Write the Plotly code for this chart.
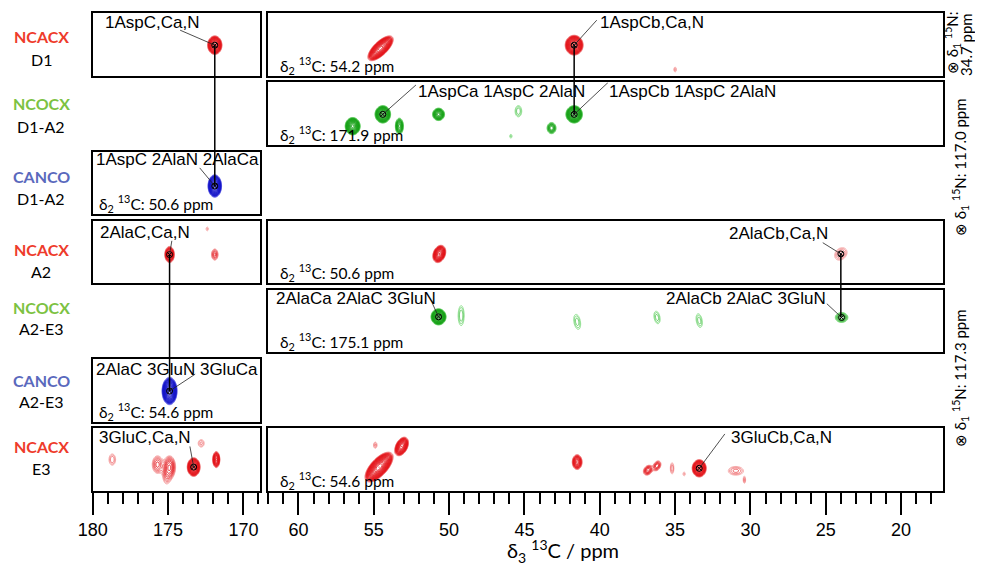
import numpy as np
import plotly.graph_objects as go

# page body adds an 8px margin around the figure; size the figure so the page fits the window exactly
PAGE_W, PAGE_H, BODY_MARGIN = 983, 575, 8
FIG_W, FIG_H = PAGE_W - 2 * BODY_MARGIN, PAGE_H - 2 * BODY_MARGIN

# ---------------- data ----------------
left_range = [180.0, 168.9]
right_range = [62.0, 17.2]

row_experiments = ["NCACX", "NCOCX", "CANCO", "NCACX", "NCOCX", "CANCO", "NCACX"]
row_residues = ["D1", "D1-A2", "D1-A2", "A2", "A2-E3", "A2-E3", "E3"]
experiment_colors = {"NCACX": "#EE3B2B", "NCOCX": "#7CC242", "CANCO": "#5A69BD"}
peak_colors = {"NCACX": ("#F5A3A3", "#E3151B"), "NCOCX": ("#86DE86", "#16A016"),
               "CANCO": ("#8C8CF0", "#1515C8")}

# panels: row index, column (L = carbonyl strip, R = aliphatic strip)
panel_rows = [0, 0, 1, 2, 3, 3, 4, 5, 6, 6]
panel_cols = ["L", "R", "R", "L", "L", "R", "R", "L", "L", "R"]
panel_plane_c13 = [None, "54.2", "171.9", "50.6", None, "50.6", "175.1", "54.6", None, "54.6"]
n_planes = ["34.7", "117.0", "117.3"]

# peaks: (delta3 ppm, position in strip 0..1, half-width ppm, half-height, intensity, slant ppm per unit)
peaks_1 = [(171.9, 0.49, 0.48, 0.15, 40, 0)]
peaks_2 = [(54.55, 0.44, 0.60, 0.20, 60, -3.0), (41.7, 0.49, 0.60, 0.16, 50, 0),
           (35.0, 0.10, 0.08, 0.04, 1.5, 0)]
peaks_3 = [(56.4, 0.30, 0.50, 0.14, 40, 0), (54.4, 0.49, 0.52, 0.14, 40, 0), (53.3, 0.30, 0.27, 0.13, 10, 0),
           (50.7, 0.49, 0.40, 0.10, 15, 0), (45.4, 0.54, 0.22, 0.09, 1.8, 0), (43.2, 0.27, 0.30, 0.09, 6, 0),
           (41.7, 0.49, 0.55, 0.14, 40, 0), (45.9, 0.14, 0.08, 0.03, 1.3, 0)]
peaks_4 = [(171.9, 0.45, 0.45, 0.18, 50, 0)]
peaks_5 = [(174.9, 0.46, 0.32, 0.13, 15, 0), (171.9, 0.46, 0.22, 0.09, 3, 0), (172.4, 0.87, 0.08, 0.03, 1.3, 0)]
peaks_6 = [(50.65, 0.47, 0.42, 0.14, 25, -0.8), (24.0, 0.47, 0.40, 0.10, 2, -1.0)]
peaks_7 = [(50.7, 0.57, 0.50, 0.13, 40, 0), (49.2, 0.59, 0.20, 0.16, 1.8, 0), (41.5, 0.49, 0.22, 0.12, 1.7, 0.6),
           (36.2, 0.56, 0.20, 0.10, 1.7, 0.6), (33.4, 0.51, 0.20, 0.11, 1.7, 0.6), (23.95, 0.56, 0.42, 0.08, 4, 0)]
peaks_8 = [(174.9, 0.49, 0.50, 0.22, 60, 0)]
peaks_9 = [(178.7, 0.50, 0.22, 0.09, 1.8, 0), (174.9, 0.38, 0.40, 0.18, 5, 0), (175.7, 0.42, 0.35, 0.14, 3, 0),
           (175.1, 0.22, 0.20, 0.10, 1.6, 0), (173.3, 0.38, 0.43, 0.15, 40, 0), (171.8, 0.50, 0.24, 0.13, 15, 0),
           (172.8, 0.76, 0.20, 0.06, 1.6, 0)]
peaks_10 = [(54.65, 0.38, 0.70, 0.24, 80, -2.6), (53.15, 0.71, 0.42, 0.15, 30, -1.2), (54.9, 0.73, 0.12, 0.05, 1.6, 0),
            (41.5, 0.46, 0.33, 0.12, 12, 0), (36.8, 0.33, 0.30, 0.08, 5, -1.0), (36.2, 0.40, 0.25, 0.08, 4, -1.0),
            (35.2, 0.36, 0.12, 0.09, 1.8, 0), (34.4, 0.27, 0.08, 0.03, 1.3, 0), (33.4, 0.36, 0.47, 0.14, 40, 0),
            (30.97, 0.32, 0.50, 0.07, 2, 0), (30.4, 0.17, 0.08, 0.05, 1.6, 0)]
panel_peaks = [peaks_1, peaks_2, peaks_3, peaks_4, peaks_5, peaks_6, peaks_7, peaks_8, peaks_9, peaks_10]

# assignments: (text, text x ppm, text y, anchor, leader start x, leader start y, peak x, peak y)
labels_1 = [("1AspC,Ca,N", 179.3, 0.86, "left", 174.2, 0.73, 171.9, 0.49)]
labels_2 = [("1AspCb,Ca,N", 40.1, 0.86, "left", 40.2, 0.89, 41.7, 0.49)]
labels_3 = [("1AspCa 1AspC 2AlaN", 52.2, 0.86, "left", 52.2, 0.96, 54.4, 0.49),
            ("1AspCb 1AspC 2AlaN", 39.5, 0.86, "left", 39.45, 1.0, 41.7, 0.49)]
labels_4 = [("1AspC 2AlaN 2AlaCa", 179.9, 0.87, "left", 172.9, 0.74, 171.9, 0.45)]
labels_5 = [("2AlaC,Ca,N", 179.65, 0.81, "left", 174.75, 0.68, 174.9, 0.46)]
labels_6 = [("2AlaCb,Ca,N", 24.73, 0.79, "right", 25.2, 0.65, 24.0, 0.47)]
labels_7 = [("2AlaCa 2AlaC 3GluN", 61.6, 0.86, "left", 51.1, 0.78, 50.7, 0.57),
            ("2AlaCb 2AlaC 3GluN", 24.87, 0.86, "right", 24.93, 0.78, 23.95, 0.56)]
labels_8 = [("2AlaC 3GluN 3GluCa", 179.9, 0.84, "left", 173.2, 0.76, 174.9, 0.49)]
labels_9 = [("3GluC,Ca,N", 179.7, 0.86, "left", 173.55, 0.71, 173.3, 0.38)]
labels_10 = [("3GluCb,Ca,N", 31.44, 0.86, "left", 31.7, 0.91, 33.4, 0.36)]
panel_labels = [labels_1, labels_2, labels_3, labels_4, labels_5, labels_6, labels_7, labels_8, labels_9, labels_10]

# sequential walk connections: (from panel, to panel, ppm, y in from panel, y in to panel)
connections = [(1, 4, 171.9, 0.49, 0.45), (2, 3, 41.7, 0.49, 0.49),
               (5, 8, 174.9, 0.46, 0.49), (6, 7, 24.0, 0.47, 0.56)]

# ---------------- layout geometry (window pixels) ----------------
row_top_px = [13.3 + i * 69.17 for i in range(7)]
panel_h_px = 62.5
col_px = {"L": (92.7, 260.0), "R": (268.3, 943.3)}
col_range = {"L": left_range, "R": right_range}
LEVEL_STEP = np.log(1.22)

SANS = "Lato, 'Open Sans', sans-serif"
HELV = "'Liberation Sans', Arial, sans-serif"


def px_x(x):
    return (x - BODY_MARGIN) / FIG_W


def px_y(y):
    return 1 - (y - BODY_MARGIN) / FIG_H


def ydom(row):
    top = row_top_px[row]
    return [px_y(top + panel_h_px), px_y(top)]


def spectrum(rng, peaks):
    lo, hi = min(rng), max(rng)
    x = np.arange(lo, hi + 0.05, 0.05)
    y = np.linspace(0, 1, 80)
    X, Y = np.meshgrid(x, y)
    Z = np.zeros_like(X)
    for (p, q, w, h, a, s) in peaks:
        k = np.sqrt(2 * np.log(a))
        sx, sy = w / k, h / k
        dx = X - p - s * (Y - q)
        Z += a * np.exp(-(dx ** 2 / (2 * sx ** 2) + (Y - q) ** 2 / (2 * sy ** 2)))
    return x, y, np.log(np.maximum(Z, 0.3))


fig = go.Figure()
layout = dict(template="none", width=FIG_W, height=FIG_H, margin=dict(l=0, r=0, t=0, b=0, pad=0),
              paper_bgcolor="white", plot_bgcolor="white", showlegend=False)
shapes, annotations = [], []

for k, (row, col) in enumerate(zip(panel_rows, panel_cols), start=1):
    sfx = "" if k == 1 else str(k)
    xref, yref = "x" + sfx, "y" + sfx
    x0, x1 = col_px[col]
    bottom = row == 6
    xa = dict(domain=[px_x(x0), px_x(x1)], range=col_range[col], anchor=yref, automargin=False,
              showline=True, mirror=True, linecolor="black", linewidth=1.5,
              showgrid=False, zeroline=False, fixedrange=True)
    if bottom:
        xa.update(ticks="outside", tick0=0, dtick=5, ticklen=22, tickwidth=1.5, tickcolor="black",
                  showticklabels=True, tickfont=dict(family=HELV, size=18, color="black"),
                  minor=dict(ticks="outside", tick0=0, dtick=1, ticklen=11, tickwidth=1.5,
                             tickcolor="black", showgrid=False))
    else:
        xa.update(ticks="", showticklabels=False)
    ya = dict(domain=ydom(row), range=[0, 1], anchor=xref, automargin=False, showline=True, mirror=True,
              linecolor="black", linewidth=1.5, ticks="", showticklabels=False,
              showgrid=False, zeroline=False, fixedrange=True)
    layout["xaxis" + sfx] = xa
    layout["yaxis" + sfx] = ya

    exp = row_experiments[row]
    c_lo, c_hi = peak_colors[exp]
    xs, ys, zs = spectrum(col_range[col], panel_peaks[k - 1])
    fig.add_trace(go.Contour(x=xs, y=ys, z=zs, xaxis=xref, yaxis=yref, autocontour=False,
                             contours=dict(start=0.0, end=float(zs.max()), size=LEVEL_STEP,
                                           coloring="lines", showlabels=False),
                             zauto=False, zmin=0.0, zmax=1.0,
                             line=dict(width=0.9), colorscale=[[0, c_lo], [1, c_hi]],
                             showscale=False, hoverinfo="skip"))

    mx, my = [], []
    for (txt, tx, ty, anc, lx, ly, px, py) in panel_labels[k - 1]:
        annotations.append(dict(text=txt, x=tx, y=ty, xref=xref, yref=yref, xanchor=anc,
                                yanchor="middle", showarrow=False,
                                font=dict(family=HELV, size=17, color="black")))
        shapes.append(dict(type="line", xref=xref, yref=yref, x0=lx, y0=ly, x1=px, y1=py,
                           line=dict(color="#222222", width=0.8)))
        mx.append(px)
        my.append(py)
    fig.add_trace(go.Scatter(x=mx, y=my, xaxis=xref, yaxis=yref, mode="markers",
                             marker=dict(symbol="circle-x-open", size=6, color="black",
                                         line=dict(width=1, color="black")),
                             hoverinfo="skip"))

    if panel_plane_c13[k - 1] is not None:
        annotations.append(dict(text="δ<sub>2</sub> <sup>13</sup>C: " + panel_plane_c13[k - 1] + " ppm",
                                x=(97 - 92.7) / 167.3 if col == "L" else (278 - 268.3) / 675.0, y=0.17,
                                xref=xref + " domain", yref=yref, xanchor="left", yanchor="middle",
                                showarrow=False, font=dict(family=SANS, size=15.5, color="black")))

# connection lines across strips
for (pa, pb, ppm, ya_, yb_) in connections:
    da, db = ydom(panel_rows[pa - 1]), ydom(panel_rows[pb - 1])
    y0 = da[0] + ya_ * (da[1] - da[0])
    y1 = db[0] + yb_ * (db[1] - db[0])
    sfx = "" if pa == 1 else str(pa)
    shapes.append(dict(type="line", xref="x" + sfx, yref="paper", x0=ppm, x1=ppm, y0=y0, y1=y1,
                       line=dict(color="black", width=1.5)))

# row labels
exp_y_px = [36.7, 103.3, 176.7, 250.0, 307.3, 380.0, 446.7]
res_y_px = [59.3, 126.0, 198.3, 271.7, 328.3, 401.7, 468.3]
for i in range(7):
    annotations.append(dict(text="<b>" + row_experiments[i] + "</b>", x=px_x(41), y=px_y(exp_y_px[i]),
                            xref="paper", yref="paper", showarrow=False, xanchor="center", yanchor="middle",
                            font=dict(family=SANS, size=16, color=experiment_colors[row_experiments[i]])))
    annotations.append(dict(text=row_residues[i], x=px_x(41), y=px_y(res_y_px[i]),
                            xref="paper", yref="paper", showarrow=False, xanchor="center", yanchor="middle",
                            font=dict(family=SANS, size=16, color="black")))

# 15N plane labels (rotated)
n_texts = ["⊗ δ<sub>1</sub> <sup>15</sup>N:", n_planes[0] + " ppm",
           "⊗ δ<sub>1</sub> <sup>15</sup>N: " + n_planes[1] + " ppm",
           "⊗ δ<sub>1</sub> <sup>15</sup>N: " + n_planes[2] + " ppm"]
n_pos = [(953, 43), (966, 45), (960, 167), (960, 378)]
for t, (px, py) in zip(n_texts, n_pos):
    annotations.append(dict(text=t, x=px_x(px), y=px_y(py), xref="paper", yref="paper",
                            showarrow=False, textangle=-90, xanchor="center", yanchor="middle",
                            font=dict(family=SANS, size=15, color="black")))

# axis title
annotations.append(dict(text="δ<sub>3</sub> <sup>13</sup>C / ppm", x=px_x(563), y=px_y(551),
                        xref="paper", yref="paper", showarrow=False, xanchor="center", yanchor="middle",
                        font=dict(family=SANS, size=20, color="black")))

layout["shapes"] = shapes
layout["annotations"] = annotations
fig.update_layout(**layout)
fig.write_html("out.html")
